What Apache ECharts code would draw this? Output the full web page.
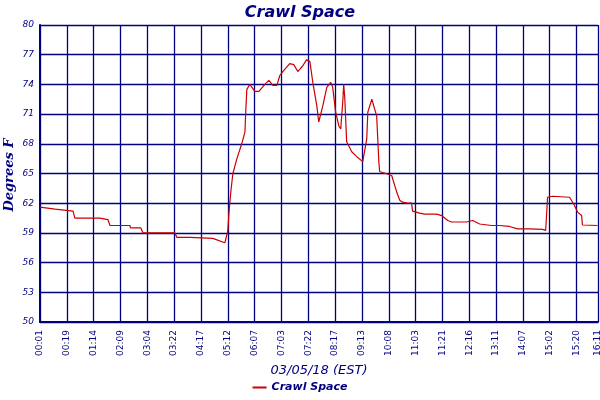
<!DOCTYPE html>
<html><head><meta charset="utf-8">
<script src="https://cdn.jsdelivr.net/npm/echarts@6/dist/echarts.min.js"></script>
<style>html,body{margin:0;padding:0;background:#fff}#c{width:600px;height:400px}</style>
</head><body><div id="c"></div>
<script>
const tickLabels = ['00:01','00:19','01:14','02:09','03:04','03:22','04:17','05:12','06:07','07:03','07:22','08:17','09:13','10:08','11:03','11:21','12:16','13:11','14:07','15:02','15:20'];
const lastLabel = '16:11';
const timePos = [0,0.56,0.6,1.23,1.3,2.23,2.25,2.53,2.61,3.35,3.37,3.76,3.84,5.03,5.1,5.59,5.62,6.44,6.89,6.95,7.0,7.04,7.11,7.19,7.34,7.52,7.64,7.67,7.71,7.82,8.01,8.16,8.38,8.53,8.68,8.83,8.94,9.05,9.31,9.46,9.61,9.8,9.94,10.06,10.17,10.32,10.39,10.54,10.69,10.84,10.91,11.02,11.14,11.21,11.29,11.32,11.36,11.43,11.62,11.81,12.03,12.18,12.22,12.37,12.44,12.55,12.63,12.66,13.11,13.3,13.41,13.52,13.71,13.85,13.89,14.15,14.34,14.79,14.97,15.2,15.34,15.9,15.94,16.13,16.39,16.83,17.13,17.5,17.8,18.25,18.73,18.85,18.92,19.11,19.74,19.89,20.04,20.19,20.22,20.78];
const temps = [61.6,61.4,61.2,61.2,60.5,60.5,60.35,60.35,59.75,59.75,59.5,59.5,59.0,59.0,58.55,58.55,58.45,58.45,58.0,58.0,59.2,60.9,63.1,65,66.5,68,69.2,71.3,73.5,74.0,73.3,73.3,74.0,74.4,73.9,73.9,74.9,75.3,76.1,76.0,75.3,75.9,76.5,76.3,74.2,71.8,70.2,71.8,73.7,74.2,73.7,71.2,69.8,69.5,72.4,74.0,72.7,68.2,67.2,66.7,66.2,68.5,71.2,72.5,72.4,70.8,66.2,65.2,64.8,63.1,62.3,62.1,62.0,62.0,61.2,61.0,60.9,60.9,60.75,60.25,60.1,60.1,60.25,60.25,59.9,59.75,59.75,59.65,59.4,59.4,59.35,59.25,62.6,62.7,62.6,61.95,61.1,60.75,59.8,59.75];
const navy = '#000080';
const chart = echarts.init(document.getElementById('c'));
chart.setOption({
  backgroundColor:'#fff', animation:false,
  title:{text:'Crawl Space',left:'center',top:0,textStyle:{color:navy,fontSize:16,fontStyle:'italic',fontWeight:'bold',fontFamily:'DejaVu Sans'}},
  grid:{left:40,right:2,top:25,bottom:78,containLabel:false,outerBoundsMode:'none'},
  legend:{bottom:2,left:'center',itemWidth:14,itemHeight:2,icon:'rect',textStyle:{color:navy,fontSize:11,fontStyle:'italic',fontWeight:'bold',fontFamily:'DejaVu Sans'}},
  graphic:[{type:'text',rotation:Math.PI/2,x:10,y:175,
    style:{text:'Degrees F',fill:navy,font:'italic bold 13px "DejaVu Serif"',align:'center',verticalAlign:'middle'}}],
  xAxis:{type:'value',min:0,max:20.8,interval:1,
    name:'03/05/18 (EST)',nameLocation:'middle',nameGap:42,
    nameTextStyle:{color:navy,fontSize:13,fontStyle:'italic',fontFamily:'DejaVu Sans'},
    axisLine:{lineStyle:{color:navy,width:2}},axisTick:{show:false},
    splitLine:{show:true,lineStyle:{color:navy,width:1.3}},
    axisLabel:{rotate:90,color:navy,fontSize:9,fontFamily:'DejaVu Sans',showMaxLabel:true,
      formatter:v=>{const i=Math.round(v);return Math.abs(v-i)<1e-6&&i<tickLabels.length?tickLabels[i]:(v>20.5?lastLabel:'');}}},
  yAxis:{type:'value',min:50,max:80,interval:3,
    axisLine:{show:true,lineStyle:{color:navy,width:2}},axisTick:{show:false},
    splitLine:{show:true,lineStyle:{color:navy,width:1.3}},
    axisLabel:{color:navy,fontSize:9,fontStyle:'italic',fontFamily:'DejaVu Sans',margin:6}},
  series:[{name:'Crawl Space',type:'line',showSymbol:false,color:'#cc0000',lineStyle:{width:1.2,color:'#cc0000'},
    data:timePos.map((t,i)=>[t,temps[i]])}]
});
</script></body></html>
